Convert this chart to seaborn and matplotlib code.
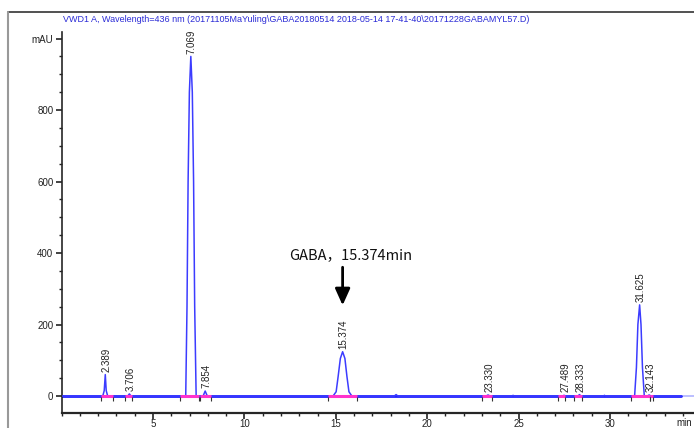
import numpy as np
import pandas as pd
import matplotlib
matplotlib.use("Agg")
import matplotlib.pyplot as plt
from matplotlib.lines import Line2D
from matplotlib.ticker import MultipleLocator, FixedLocator
import seaborn as sns

sns.set_style("ticks")
plt.rcParams['font.family'] = ['Liberation Sans', 'DejaVu Sans']

# ----------------------------
# Data
# ----------------------------
time_min = [0.0, 2.25, 2.33, 2.389, 2.44, 2.52,
            3.62, 3.706, 3.80,
            6.79, 6.86, 6.92, 6.99, 7.069, 7.15, 7.22, 7.28, 7.36,
            7.74, 7.854, 7.97,
            14.85, 15.02, 15.13, 15.25, 15.374, 15.50, 15.61, 15.72, 15.88,
            18.20, 18.30, 18.40,
            23.22, 23.33, 23.45,
            24.65, 24.70, 24.75,
            27.40, 27.489, 27.58,
            28.25, 28.333, 28.42,
            29.65, 29.70, 29.75,
            31.35, 31.45, 31.53, 31.625, 31.70, 31.78, 31.88,
            32.05, 32.143, 32.25,
            33.90]
signal_mau = [0, 0, 15, 60, 15, 0,
              0, 6, 0,
              0, 250, 600, 850, 950, 850, 600, 250, 0,
              0, 14, 0,
              0, 12, 55, 105, 124, 105, 55, 12, 0,
              0, 4, 0,
              0, 3, 0,
              0, 2, 0,
              0, 2, 0,
              0, 4, 0,
              0, 2, 0,
              0, 80, 200, 255, 200, 80, 0,
              0, 3, 0,
              0]

peak_rt = [2.389, 3.706, 7.069, 7.854, 15.374, 23.330, 27.489, 28.333, 31.625, 32.143]
peak_height = [60, 6, 950, 14, 124, 3, 2, 4, 255, 3]
peak_labels = ["2.389", "3.706", "7.069", "7.854", "15.374", "23.330",
               "27.489", "28.333", "31.625", "32.143"]

# integration baselines (start, end) in min
base_start = [2.14, 3.47, 6.48, 7.57, 14.57, 23.00, 27.16, 28.04, 31.15, 32.20]
base_end = [2.83, 3.83, 7.52, 8.16, 16.16, 23.55, 27.54, 28.47, 32.20, 32.35]

trace = pd.DataFrame({"time": time_min, "mAU": signal_mau})

fig = plt.figure(figsize=(6.94, 4.28), dpi=100)
ax = fig.add_axes([0.0888, 0.035, 0.9112, 0.890])

# trace tail (light) and baseline
ax.plot([33.9, 34.7], [0, 0], color="#b0b4ff", lw=1.2, zorder=2)
ax.axhline(0, xmin=0, xmax=33.9 / 34.6, color="#1f1fff", lw=2.0, zorder=2)
sns.lineplot(data=trace, x="time", y="mAU", ax=ax, color="#3c3cff", lw=1.1,
             estimator=None, sort=False, zorder=3)

# magenta integration baselines with end marks
for s, e in zip(base_start, base_end):
    ax.plot([s, e], [0, 0], color="#ff33cc", lw=2.2, zorder=4, solid_capstyle="butt")
    ax.plot([s, e], [-7, -7], ls="none", marker="|", color="#333333", ms=3, mew=0.8, zorder=5)

# peak labels
for rt, h, lab in zip(peak_rt, peak_height, peak_labels):
    ax.text(rt + 0.06, h + 8, lab, rotation=90, ha="center", va="bottom",
            fontsize=7, color="#222222")

# GABA annotation
ax.annotate("", xy=(15.374, 246), xytext=(15.374, 368),
            arrowprops=dict(arrowstyle="-|>,head_width=0.45,head_length=1.0",
                            color="black", lw=2))
ax.text(12.45, 393, "GABA，15.374min", fontsize=10.5, va="center", ha="left",
        family=["Noto Sans CJK SC", "DejaVu Sans"], color="#111111")

# axes styling
ax.set_xlim(0, 34.6)
ax.set_ylim(-47.5, 1018)
ax.xaxis.set_major_locator(FixedLocator([5, 10, 15, 20, 25, 30]))
ax.xaxis.set_minor_locator(MultipleLocator(1))
ax.yaxis.set_major_locator(FixedLocator([0, 200, 400, 600, 800, 1000]))
ax.yaxis.set_minor_locator(MultipleLocator(50))
ax.set_yticklabels(["0", "200", "400", "600", "800", "mAU"])
ax.tick_params(axis="y", which="major", length=4, width=1.2, labelsize=7,
               colors="#222222", pad=2)
ax.tick_params(axis="x", which="major", length=4, width=1.2, labelsize=7,
               colors="#222222", pad=0.5)
ax.tick_params(axis="both", which="minor", length=2.5, width=1.0, colors="#222222")
ax.set_xlabel("")
ax.set_ylabel("")
sns.despine(ax=ax)
ax.spines["left"].set_linewidth(1.2)
ax.spines["bottom"].set_linewidth(1.6)
ax.text(33.65, -61, "min", fontsize=7, color="#222222", va="top", ha="left",
        clip_on=False)

# title and outer frame
fig.text(0.091, 0.9556, "VWD1 A, Wavelength=436 nm (20171105MaYuling\\GABA20180514 "
         "2018-05-14 17-41-40\\20171228GABAMYL57.D)", fontsize=6.5,
         color="#2b2bd6", va="center", ha="left")
fig.add_artist(Line2D([0.0115, 1.0], [0.972, 0.972], color="#333333", lw=1.2,
                      transform=fig.transFigure))
fig.add_artist(Line2D([0.0115, 0.0115], [0.0, 0.972], color="#999999", lw=1.5,
                      transform=fig.transFigure))

fig.savefig("out.png", dpi=100)
